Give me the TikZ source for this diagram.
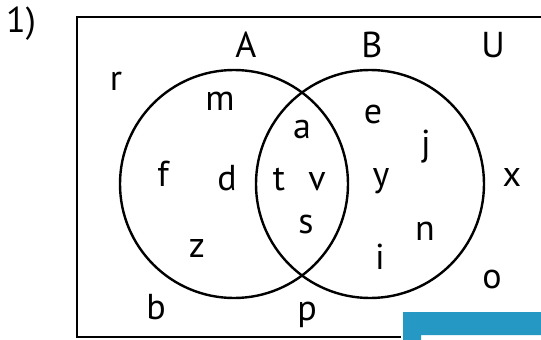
\documentclass[tikz,border=0pt]{standalone}
\usepackage{fontspec}
\setmainfont{PT Sans}
\definecolor{tabblue}{RGB}{38,152,196}
\begin{document}
\begin{tikzpicture}[x=1pt,y=-1pt]
  \tikzset{setcirc/.style={draw, circle, line width=2.4pt, inner sep=0pt, minimum size=228pt},
           elem/.style={anchor=base, inner sep=0pt, font=\fontsize{36}{42}\selectfont}}
  \useasboundingbox (0,0) rectangle (541,340);
    \draw[line width=2.4pt] (541,17) -- (77,17) -- (77,337) -- (401,337);
    \fill[tabblue] (403,340) -- (403,312) -- (541,312) -- (541,335) -- (421,335) -- (421,340) -- cycle;

    \node[setcirc] at (234,184) (set_A) {};
    \node[setcirc] at (370,184) (set_B) {};

    \node[elem] at (21,32) (num) {1)};
    \node[elem] at (246,57) (lbl_A) {A};
    \node[elem] at (372,57) (lbl_B) {B};
    \node[elem] at (493,57) (lbl_U) {U};

    \node[elem] at (116,90) (e_r) {r};
    \node[elem] at (220,110) (e_m) {m};
    \node[elem] at (163,186) (e_f) {f};
    \node[elem] at (227,190) (e_d) {d};
    \node[elem] at (197,257) (e_z) {z};

    \node[elem] at (302,138) (e_a) {a};
    \node[elem] at (279,190) (e_t) {t};
    \node[elem] at (317,190) (e_v) {v};
    \node[elem] at (306,233) (e_s) {s};

    \node[elem] at (373,123) (e_e) {e};
    \node[elem] at (426,155) (e_j) {j};
    \node[elem] at (381,186) (e_y) {y};
    \node[elem] at (425,240) (e_n) {n};
    \node[elem] at (380,269) (e_i) {i};

    \node[elem] at (512,186) (e_x) {x};
    \node[elem] at (492,288) (e_o) {o};
    \node[elem] at (156,319) (e_b) {b};
    \node[elem] at (307,320) (e_p) {p};
  \end{tikzpicture}
\end{document}
